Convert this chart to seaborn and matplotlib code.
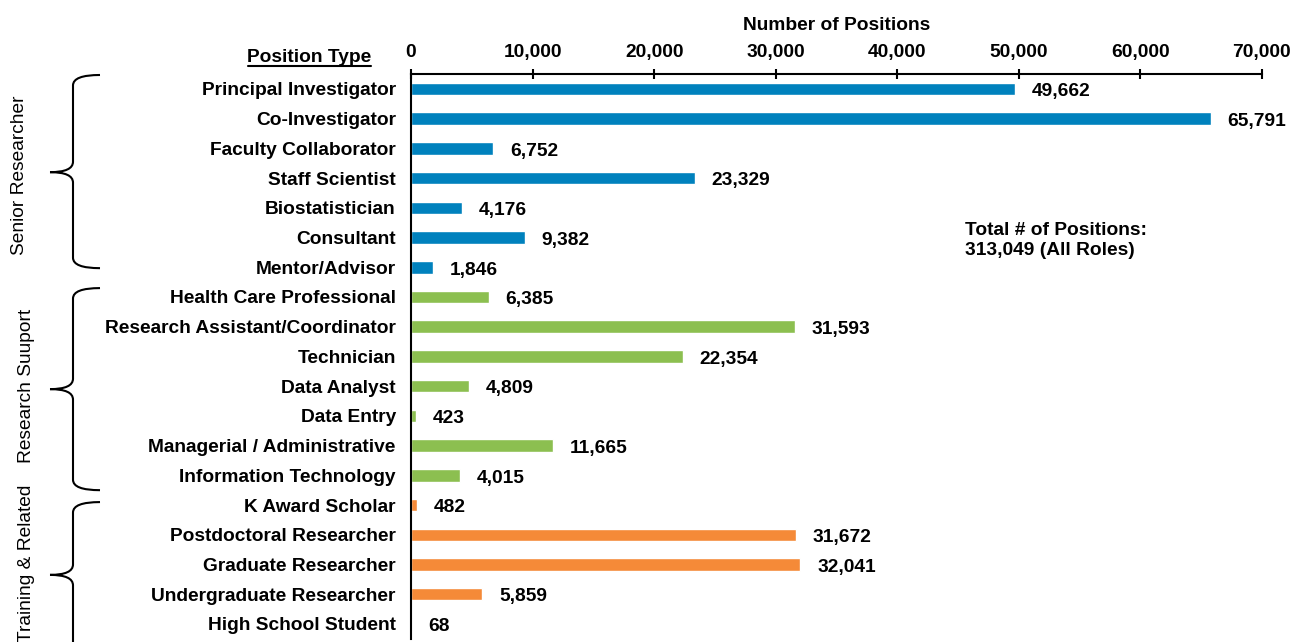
import numpy as np
import pandas as pd
import matplotlib
matplotlib.use('Agg')
import matplotlib.pyplot as plt
import matplotlib.transforms as mtransforms
from matplotlib.path import Path
from matplotlib.patches import PathPatch
from matplotlib.lines import Line2D
import seaborn as sns

# data
senior_roles = ['Principal Investigator', 'Co-Investigator', 'Faculty Collaborator',
                'Staff Scientist', 'Biostatistician', 'Consultant', 'Mentor/Advisor']
senior_counts = [49662, 65791, 6752, 23329, 4176, 9382, 1846]

support_roles = ['Health Care Professional', 'Research Assistant/Coordinator', 'Technician',
                 'Data Analyst', 'Data Entry', 'Managerial / Administrative',
                 'Information Technology']
support_counts = [6385, 31593, 22354, 4809, 423, 11665, 4015]

training_roles = ['K Award Scholar', 'Postdoctoral Researcher', 'Graduate Researcher',
                  'Undergraduate Researcher', 'High School Student']
training_counts = [482, 31672, 32041, 5859, 68]

group_names = ['Senior Researcher', 'Research Suuport', 'Training & Related']
group_colors = ['#0081BD', '#8CBF50', '#F58A38']

df = pd.DataFrame({
    'role': senior_roles + support_roles + training_roles,
    'count': senior_counts + support_counts + training_counts,
    'group': ([group_names[0]] * len(senior_roles) + [group_names[1]] * len(support_roles)
              + [group_names[2]] * len(training_roles)),
})

sns.set_style('white')
plt.rcParams['font.family'] = ['Liberation Sans', 'DejaVu Sans']
plt.rcParams['text.color'] = 'black'
plt.rcParams['axes.labelcolor'] = 'black'
plt.rcParams['xtick.color'] = 'black'
plt.rcParams['ytick.color'] = 'black'

FS = 13.8

fig = plt.figure(figsize=(12.93, 6.42), dpi=100)
ax = fig.add_axes([0.3179, 0.005, 0.658, 0.8796])

sns.barplot(data=df, y='role', x='count', hue='group', palette=group_colors,
            dodge=False, width=0.42, saturation=1, legend=False, ax=ax)

for cont in ax.containers:
    labels = ax.bar_label(cont, labels=[f'{v:,.0f}' for v in cont.datavalues],
                          padding=12, fontsize=FS, fontweight='bold', color='black')
    for t in labels:
        t.xyann = (12, -2)  # sit a touch below bar centre like the original

ax.set_xlim(0, 70000)
ax.set_ylim(len(df) - 0.5, -0.5)
ax.xaxis.tick_top()
ax.xaxis.set_label_position('top')
ax.set_xticks(np.arange(0, 70001, 10000))
ax.set_xticklabels([f'{v:,}' for v in range(0, 70001, 10000)], fontsize=FS, fontweight='bold')
ax.set_xlabel('Number of Positions', fontsize=FS, fontweight='bold', labelpad=10)
ax.set_ylabel('')
ax.set_yticks(range(len(df)))
ax.set_yticklabels(df['role'], fontsize=FS, fontweight='bold')
ax.set_yticks(np.arange(-0.5, len(df), 1), minor=True)
ax.tick_params(axis='y', which='major', length=0, pad=11)
ax.tick_params(axis='y', which='minor', length=6, width=1.5, direction='out', color='black')
ax.tick_params(axis='x', which='major', length=7, width=1.5, direction='inout',
               color='black', pad=6)

for side in ['right', 'bottom']:
    ax.spines[side].set_visible(False)
for side in ['left', 'top']:
    ax.spines[side].set_color('black')
    ax.spines[side].set_linewidth(1.5)

ax.text(0.651, 0.738, 'Total # of Positions:\n313,049 (All Roles)', transform=ax.transAxes,
        fontsize=FS, fontweight='bold', va='top', ha='left', linespacing=1.25)

# "Position Type" header with underline
fig.text(371 / 1293, 1 - 57 / 642, 'Position Type', ha='right', va='center',
         fontsize=FS, fontweight='bold')
fig.add_artist(Line2D([248 / 1293, 371 / 1293], [1 - 66 / 642, 1 - 66 / 642],
                      color='black', lw=1.5))

# curly braces for the groups: x in figure fraction, y in data rows
trans = mtransforms.blended_transform_factory(fig.transFigure, ax.transData)


def brace(y_top, y_bot, y_mid, x_vert=73 / 1293, x_end=100 / 1293, x_tip=50 / 1293, r=0.35):
    verts = [(x_end, y_top), (x_vert, y_top), (x_vert, y_top + r),
             (x_vert, y_mid - r), (x_vert, y_mid), (x_tip, y_mid),
             (x_tip, y_mid), (x_vert, y_mid), (x_vert, y_mid + r),
             (x_vert, y_bot - r), (x_vert, y_bot), (x_end, y_bot)]
    codes = [Path.MOVETO, Path.CURVE3, Path.CURVE3,
             Path.LINETO, Path.CURVE3, Path.CURVE3,
             Path.MOVETO, Path.CURVE3, Path.CURVE3,
             Path.LINETO, Path.CURVE3, Path.CURVE3]
    patch = PathPatch(Path(verts, codes), fill=False, lw=1.5, color='black',
                      transform=trans, clip_on=False)
    fig.add_artist(patch)


brace(-0.47, 6.03, 2.8)
brace(6.7, 13.5, 10.1)
brace(13.9, 19.2, 16.35)

label_pos = [(20, 2.9), (27, 10.0), (27, 15.95)]
for name, (px, row) in zip(group_names, label_pos):
    ax.text(px / 1293, row, name, transform=trans, rotation=90, ha='center', va='center',
            fontsize=FS)

fig.savefig('out.png', dpi=100)
